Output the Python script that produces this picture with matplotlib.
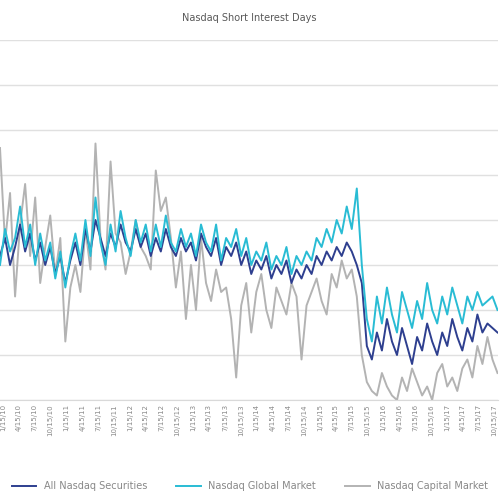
import matplotlib
matplotlib.use("Agg")
import matplotlib.pyplot as plt

all_sec = [3.2,3.6,3.0,3.4,3.9,3.3,3.7,3.1,3.5,3.0,3.4,2.8,3.2,2.6,3.1,
           3.5,3.0,3.8,3.3,4.0,3.6,3.2,3.7,3.4,3.9,3.5,3.3,3.8,3.4,3.7,3.2,
           3.6,3.3,3.8,3.4,3.2,3.6,3.3,3.5,3.1,3.7,3.4,3.2,3.6,3.0,3.4,
           3.2,3.5,3.0,3.3,2.8,3.1,2.9,3.2,2.7,3.0,2.8,3.1,2.6,2.9,2.7,
           3.0,2.8,3.2,3.0,3.3,3.1,3.4,3.2,3.5,3.3,3.0,2.6,
           1.2,0.9,1.5,1.1,1.8,1.3,1.0,1.6,1.2,0.8,1.4,1.1,1.7,1.3,1.0,1.5,1.2,1.8,1.4,1.1,1.6,1.3,1.9,1.5,1.7,1.6,1.5]
glob = [3.0,3.8,3.3,3.6,4.3,3.4,3.9,3.0,3.7,3.1,3.5,2.7,3.3,2.5,3.2,
        3.7,3.1,4.0,3.2,4.5,3.5,3.0,3.9,3.3,4.2,3.6,3.2,4.0,3.5,3.9,3.3,
        3.9,3.4,4.1,3.5,3.3,3.8,3.4,3.7,3.2,3.9,3.5,3.3,3.9,3.1,3.6,
        3.4,3.8,3.2,3.6,3.0,3.3,3.1,3.5,2.9,3.2,3.0,3.4,2.8,3.2,3.0,
        3.3,3.1,3.6,3.4,3.8,3.5,4.0,3.7,4.3,3.8,4.7,3.0,
        1.8,1.3,2.3,1.7,2.5,1.9,1.5,2.4,2.0,1.6,2.2,1.8,2.6,2.0,1.7,2.3,1.9,2.5,2.1,1.7,2.3,2.0,2.4,2.1,2.2,2.3,2.0]
cap = [5.6,3.5,4.6,2.3,3.9,4.8,3.2,4.5,2.6,3.4,4.1,2.8,3.6,1.3,2.5,
       3.0,2.4,3.8,2.9,5.7,3.6,2.9,5.3,3.7,3.5,2.8,3.3,4.0,3.4,3.2,2.9,
       5.1,4.2,4.5,3.6,2.5,3.3,1.8,3.0,2.0,3.6,2.6,2.2,2.9,2.4,2.5,
       1.8,0.5,2.1,2.6,1.5,2.4,2.8,2.0,1.6,2.5,2.2,1.9,2.6,2.3,0.9,
       2.1,2.4,2.7,2.2,1.9,2.8,2.5,3.1,2.7,2.9,2.3,1.0,
       0.4,0.2,0.1,0.6,0.3,0.1,0.0,0.5,0.2,0.7,0.4,0.1,0.3,0.0,0.6,0.8,0.3,0.5,0.2,0.7,0.9,0.5,1.2,0.8,1.4,0.9,0.6]
tick_labels = [f"{m}/{d}/{y}" for y in range(10, 18) for m, d in [(1,15),(4,15),(7,15),(10,15)]][:62]

fig = plt.figure(figsize=(5, 5), dpi=100)
ax = fig.add_axes([0.0, 0.2, 0.995, 0.72])
x = list(range(len(all_sec)))
ax.plot(x, cap, color="#b3b3b3", lw=1.4, label="Nasdaq Capital Market")
ax.plot(x, all_sec, color="#2e3f8f", lw=1.4, label="All Nasdaq Securities")
ax.plot(x, glob, color="#29bcd4", lw=1.4, label="Nasdaq Global Market")
ax.set_ylim(0, 8)
ax.set_xlim(0, len(x) - 1)
ax.set_yticks(range(0, 9))
ax.set_yticklabels([])
ax.tick_params(axis="y", length=0)
ax.grid(axis="y", color="#e0e0e0", lw=1)
for s in ["top", "right", "left"]:
    ax.spines[s].set_visible(False)
ax.spines["bottom"].set_color("#d9d9d9")
n = len(tick_labels)
tpos = [0.6 + i * (len(x) - 2.2) / (n - 1) for i in range(n)]
ax.set_xticks(tpos)
ax.set_xticklabels(tick_labels, rotation=90, fontsize=5, color="#888888")
ax.tick_params(axis="x", length=0, pad=3)
ax.set_title("Nasdaq Short Interest Days", fontsize=7, color="#595959", pad=14)
h, l = ax.get_legend_handles_labels()
order = [1, 2, 0]
fig.legend([h[i] for i in order], [l[i] for i in order], loc="lower center",
           ncol=3, frameon=False, fontsize=7, labelcolor="#888888",
           bbox_to_anchor=(0.5, 0.0), columnspacing=3, handlelength=2.5)
fig.savefig("out.png", dpi=100)
